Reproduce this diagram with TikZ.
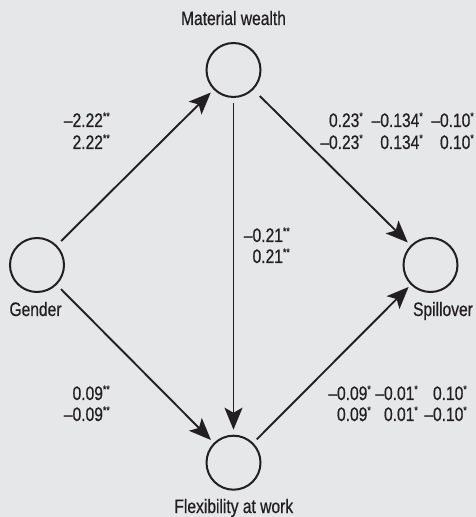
\documentclass[tikz,border=0pt]{standalone}
\usepackage{fontspec}
\setmainfont[FakeStretch=0.8,FakeBold=0.6]{Liberation Sans}
\usetikzlibrary{arrows.meta}
\definecolor{bg}{HTML}{E6E7E8}
\definecolor{ink}{HTML}{231F20}
\newcommand\sig[1]{\raisebox{7pt}{\fontsize{11}{11}\selectfont#1}}
\begin{document}
\begin{tikzpicture}[x=1pt,y=1pt,
  var/.style={circle,draw=ink,line width=2pt,minimum size=54pt,inner sep=0pt,outer sep=0pt},
  lab/.style={anchor=base,inner sep=0pt,text=ink,font=\fontsize{19.5}{21}\selectfont},
  num/.style={anchor=base east,inner sep=0pt,text=ink,font=\fontsize{19.5}{21}\selectfont},
  path/.style={draw=ink,line width=1.9pt,-{Stealth[length=22pt,width=18pt,inset=5pt]}}]
\fill[bg] (0,0) rectangle (476,517);
\useasboundingbox (0,0) rectangle (476,517);
% variables
\node[var] (mw) at (233.5,447) {};
\node[var] (g) at (37,252) {};
\node[var] (s) at (430.5,252) {};
\node[var] (f) at (233.5,54.3) {};
% names
\node[lab] (mwl) at (233.5,492) {Material wealth};
\node[lab] (gl) at (35.5,201) {Gender};
\node[lab] (sl) at (443,201) {Spillover};
\node[lab] (fl) at (233.8,4) {Flexibility at work};
% paths
\draw[path,shorten <=7pt,shorten >=5pt] (g) -- (mw);
\draw[path,shorten <=6pt,shorten >=6pt] (mw) -- (f);
\draw[path,shorten <=10pt,shorten >=5pt] (mw) -- (s);
\draw[path,shorten <=7pt,shorten >=5pt] (g) -- (f);
\draw[path,shorten <=6pt,shorten >=4pt] (f) -- (s);
% coefficients: Gender -> Material wealth
\node[num] (a1) at (110,390) {–2.22\sig{**}};
\node[num] (a2) at (110,368) {2.22\sig{**}};
% Material wealth -> Flexibility
\node[num] (b1) at (290,275) {–0.21\sig{**}};
\node[num] (b2) at (290,254) {0.21\sig{**}};
% Material wealth -> Spillover
\node[num] (c11) at (363,390) {0.23\sig{*}};
\node[num] (c12) at (423,390) {–0.134\sig{*}};
\node[num] (c13) at (474,390) {–0.10\sig{*}};
\node[num] (c21) at (363,368) {–0.23\sig{*}};
\node[num] (c22) at (423,368) {0.134\sig{*}};
\node[num] (c23) at (474,368) {0.10\sig{*}};
% Gender -> Flexibility
\node[num] (d1) at (110,117) {0.09\sig{**}};
\node[num] (d2) at (110,96) {–0.09\sig{**}};
% Flexibility -> Spillover
\node[num] (e11) at (371,117) {–0.09\sig{*}};
\node[num] (e12) at (418,117) {–0.01\sig{*}};
\node[num] (e13) at (467,117) {0.10\sig{*}};
\node[num] (e21) at (371,96) {0.09\sig{*}};
\node[num] (e22) at (418,96) {0.01\sig{*}};
\node[num] (e23) at (467,96) {–0.10\sig{*}};
\end{tikzpicture}
\end{document}
